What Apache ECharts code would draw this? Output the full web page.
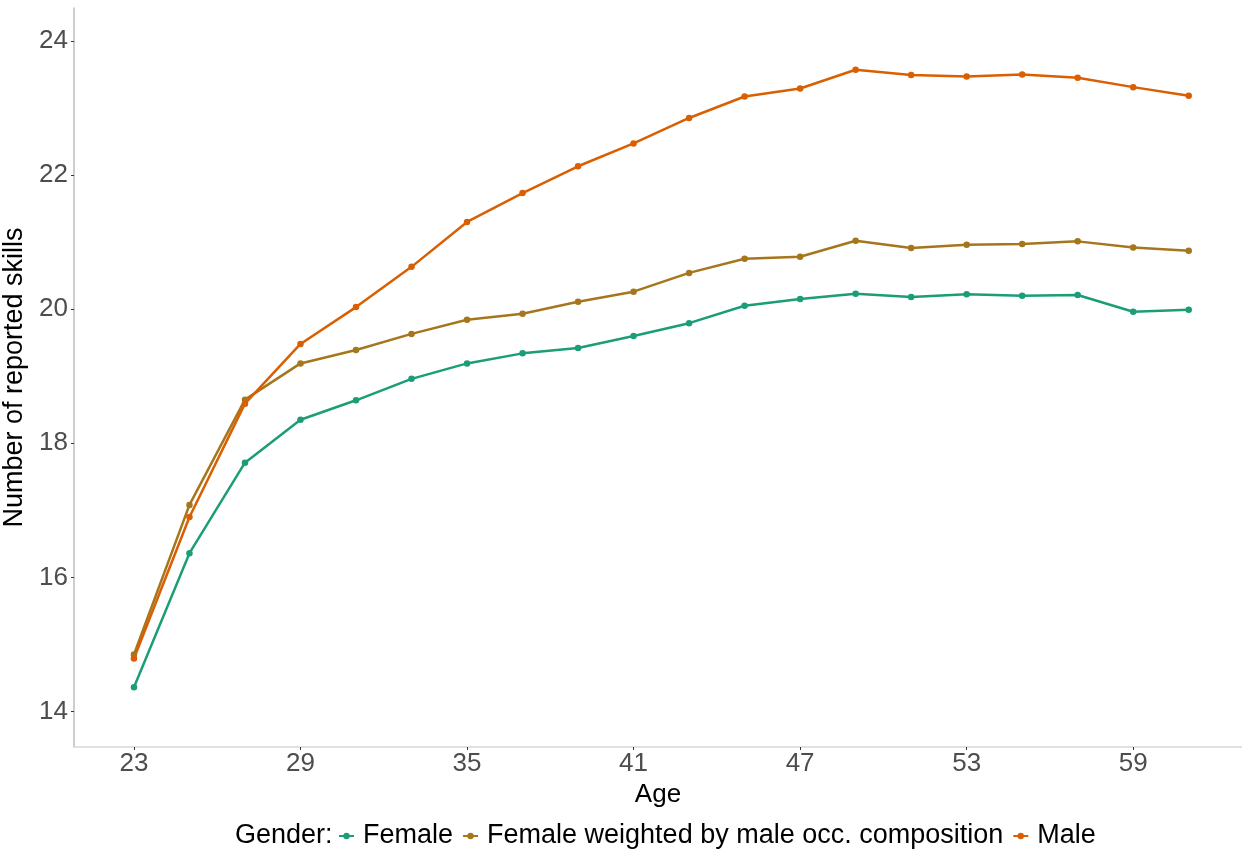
<!DOCTYPE html>
<html><head><meta charset="utf-8">
<script src="https://cdn.jsdelivr.net/npm/echarts@6/dist/echarts.min.js"></script>
<style>html,body{margin:0;padding:0;background:#fff}#c{width:1242px;height:853px}</style>
</head><body><div id="c"></div>
<script>
const ages = [23,25,27,29,31,33,35,37,39,41,43,45,47,49,51,53,55,57,59,61];
const female = [14.36,16.36,17.71,18.35,18.64,18.96,19.19,19.34,19.42,19.60,19.79,20.05,20.15,20.23,20.18,20.22,20.20,20.21,19.96,19.99];
const femaleWeighted = [14.85,17.08,18.65,19.19,19.39,19.63,19.84,19.93,20.11,20.26,20.54,20.75,20.78,21.02,20.91,20.96,20.97,21.01,20.92,20.87];
const male = [14.79,16.90,18.59,19.48,20.03,20.63,21.30,21.73,22.13,22.47,22.85,23.17,23.29,23.57,23.49,23.47,23.50,23.45,23.31,23.18];
const xTicks = [23,29,35,41,47,53,59];
const yTicks = [14,16,18,20,22,24];
const seriesNames = ['Female','Female weighted by male occ. composition','Male'];
const colors = ['#1b9e77','#a6761d','#d95f02'];

const chart = echarts.init(document.getElementById('c'));
const font = 'Liberation Sans, Arial, sans-serif';
function mk(name, vals, color){
  return {name, type:'line', data: ages.map((a,i)=>[a, vals[i]]),
    symbol:'circle', symbolSize:6.5, showSymbol:true,
    lineStyle:{width:2.5,color}, itemStyle:{color}, emphasis:{disabled:true}, z: 2};
}
chart.setOption({
  animation:false,
  textStyle:{fontFamily:font},
  grid:{left:74, top:8, right:0, bottom:106, containLabel:false, outerBoundsMode:'none'},
  xAxis:{type:'value', min:20.84, max:62.92,
    name:'Age', nameLocation:'middle', nameGap:31,
    nameTextStyle:{color:'#000', fontSize:26, fontFamily:font},
    axisLine:{show:true, lineStyle:{color:'#d9d9d9', width:1.5}},
    axisTick:{show:true, customValues:xTicks, length:3, lineStyle:{color:'#333'}},
    axisLabel:{customValues:xTicks, color:'#4d4d4d', fontSize:26, margin:4, fontFamily:font},
    splitLine:{show:false}},
  yAxis:{type:'value', min:13.47, max:24.49,
    name:'Number of reported skills', nameLocation:'middle', nameGap:36, nameRotate:90,
    nameTextStyle:{color:'#000', fontSize:27, fontFamily:font},
    axisLine:{show:true, lineStyle:{color:'#bdbdbd', width:1.5}},
    axisTick:{show:true, customValues:yTicks, length:3, lineStyle:{color:'#333'}},
    axisLabel:{customValues:yTicks, color:'#4d4d4d', fontSize:26, margin:6, fontFamily:font},
    splitLine:{show:false}},
  legend:{data:seriesNames, left:338, top:821, padding:0, itemWidth:15, itemHeight:8, itemGap:9,
    textStyle:{color:'#000', fontSize:27, lineHeight:30, fontFamily:font, padding:[0,0,0,4]}},
  graphic:[{type:'text', x:235, y:836, style:{text:'Gender:', fontSize:27, fontFamily:font, fill:'#000', verticalAlign:'middle'}}],
  series:[mk(seriesNames[0], female, colors[0]), mk(seriesNames[1], femaleWeighted, colors[1]), mk(seriesNames[2], male, colors[2])]
});
</script></body></html>
